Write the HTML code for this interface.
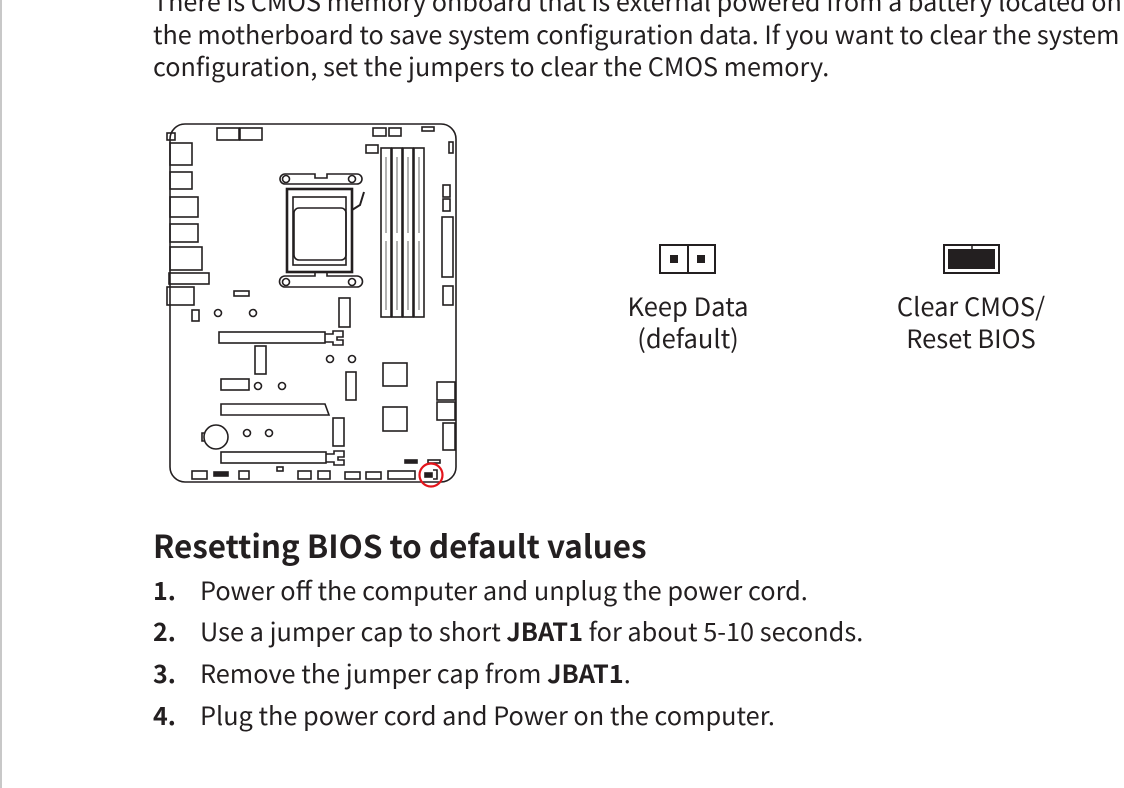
<!DOCTYPE html>
<html><head><meta charset="utf-8"><style>
html,body{margin:0;padding:0;background:#fff;}
body{width:1124px;height:788px;position:relative;overflow:hidden;font-family:"Noto Sans CJK JP","Liberation Sans",sans-serif;color:#231f20;}
.t{position:absolute;white-space:nowrap;font-size:25.2px;line-height:1;}
.lb{position:absolute;text-align:center;font-size:25.5px;line-height:32px;white-space:nowrap;}
.h{position:absolute;left:153px;top:530px;font-size:31.4px;font-weight:bold;white-space:nowrap;line-height:1;}
.n{position:absolute;left:153px;font-weight:bold;font-size:25px;white-space:nowrap;}
.i{position:absolute;left:200px;font-size:25.3px;white-space:nowrap;}
</style></head><body>
<div style="position:absolute;left:0;top:0;width:2px;height:788px;background:#c8c8c8"></div>
<div class="t" style="left:153px;top:-11px">There is CMOS memory onboard that is external powered from a battery located on</div>
<div class="t" style="left:153px;top:22px">the motherboard to save system configuration data. If you want to clear the system</div>
<div class="t" style="left:153px;top:54px">configuration, set the jumpers to clear the CMOS memory.</div>

<svg style="position:absolute;left:160px;top:120px" width="305" height="370" viewBox="0 0 305 370" fill="none" stroke="#231f20" stroke-width="1.6">
<rect x="10" y="4" width="286" height="358" rx="15" fill="#fff"/>
<rect x="7" y="13" width="8" height="7"/>
<rect x="57" y="8" width="22" height="12"/><rect x="80" y="8" width="22" height="12"/>
<rect x="213" y="8" width="13" height="8"/><rect x="229" y="8" width="12" height="8"/>
<rect x="262" y="7" width="12" height="4"/><rect x="289" y="22" width="4" height="11"/>
<rect x="206" y="25" width="12" height="8"/>
<rect x="283" y="65" width="7" height="12"/><rect x="283" y="79" width="7" height="12"/>
<rect x="282" y="97" width="11" height="60"/><rect x="283" y="166" width="10" height="19"/>
<rect x="10" y="23" width="22" height="22"/><rect x="10" y="52" width="22" height="17"/>
<rect x="10" y="77" width="28" height="20"/><rect x="10" y="104" width="28" height="18"/>
<rect x="10" y="127" width="32" height="23"/><rect x="9" y="153" width="40" height="11"/>
<rect x="7" y="167" width="27" height="18"/>
<rect x="74" y="171" width="15" height="5"/><rect x="32" y="190" width="7" height="11"/>
<circle cx="58" cy="193" r="3.5"/><circle cx="93" cy="193" r="3.5"/>
<g>
<rect x="221" y="28" width="10" height="169"/><rect x="232" y="28" width="10" height="169"/>
<rect x="243" y="28" width="10" height="169"/><rect x="254" y="28" width="10" height="169"/>
<g stroke="#999" stroke-width="1.5"><line x1="226" y1="37" x2="226" y2="113"/><line x1="226" y1="121" x2="226" y2="190"/><line x1="237" y1="37" x2="237" y2="113"/><line x1="237" y1="121" x2="237" y2="190"/><line x1="248" y1="37" x2="248" y2="113"/><line x1="248" y1="121" x2="248" y2="190"/><line x1="259" y1="37" x2="259" y2="113"/><line x1="259" y1="121" x2="259" y2="190"/></g>
</g>
<path d="M125 54 h30 v4 h12 v-4 h30 a4 4 0 0 1 0 10 h-72 a4 4 0 0 1 0 -10z"/>
<circle cx="126" cy="59" r="3.5"/><circle cx="192" cy="59" r="3.5"/>
<path d="M125 156 h30 v-4 h12 v4 h30 a4 4 0 0 1 0 11 h-72 a4 4 0 0 1 0 -11z"/>
<circle cx="126" cy="162" r="3.5"/><circle cx="192" cy="162" r="3.5"/>
<rect x="127" y="69" width="65" height="83" stroke-width="2.6"/>
<rect x="133" y="77" width="53" height="68"/>
<rect x="134" y="88" width="52" height="52" rx="5"/>
<path d="M192 90 L200 85 L204 72" stroke-width="2"/>
<rect x="179" y="178" width="11" height="29"/>
<rect x="59" y="212" width="106" height="11"/>
<path d="M165 214 h8 v-3 h10 v6 h-6 v3 h6 v5 h-10 v-3 h-8"/>
<rect x="95" y="226" width="11" height="28"/>
<circle cx="170" cy="239" r="3.5"/><circle cx="192" cy="239" r="3.5"/>
<rect x="61" y="259" width="28" height="11"/>
<circle cx="98" cy="266" r="3.5"/><circle cx="122" cy="266" r="3.5"/>
<rect x="186" y="252" width="10" height="28"/>
<rect x="223" y="243" width="24" height="23"/><rect x="223" y="287" width="24" height="24"/>
<rect x="277" y="262" width="18" height="18"/><rect x="277" y="282" width="18" height="18"/>
<rect x="283" y="303" width="12" height="27"/>
<polygon points="61,284 165,284 169,295 61,295"/>
<rect x="173" y="298" width="11" height="28"/>
<circle cx="56" cy="317" r="12"/><path d="M44 313 h-2 v8 h2"/>
<circle cx="87" cy="313" r="3.5"/><circle cx="109" cy="313" r="3.5"/>
<rect x="61" y="332" width="105" height="11"/>
<path d="M166 334 h8 v-3 h10 v6 h-6 v3 h6 v5 h-10 v-3 h-8"/>
<rect x="32" y="351" width="15" height="8"/><rect x="54" y="352" width="14" height="4" fill="#231f20"/>
<rect x="79" y="351" width="10" height="8"/><rect x="117" y="347" width="6" height="4"/>
<rect x="138" y="351" width="13" height="8"/><rect x="158" y="351" width="12" height="8"/>
<rect x="185" y="352" width="15" height="7"/><rect x="206" y="352" width="15" height="7"/>
<rect x="228" y="351" width="27" height="8"/>
<rect x="245" y="340" width="12" height="3" fill="#231f20"/><rect x="268" y="340" width="12" height="3"/>
<rect x="265" y="353" width="7" height="4" fill="#231f20"/><path d="M273 350 h4 v9 h-4"/>
<circle cx="271" cy="355" r="11.5" stroke="#e3141b" stroke-width="2.2"/>
</svg>

<svg style="position:absolute;left:658px;top:243px" width="60" height="32" viewBox="0 0 60 32">
<rect x="2" y="2" width="28" height="28" fill="#fff" stroke="#231f20" stroke-width="2"/>
<rect x="30" y="2" width="27" height="28" fill="#fff" stroke="#231f20" stroke-width="2"/>
<rect x="12" y="12" width="8" height="8" fill="#231f20"/><rect x="39" y="12" width="8" height="8" fill="#231f20"/>
</svg>
<svg style="position:absolute;left:942px;top:243px" width="60" height="32" viewBox="0 0 60 32">
<rect x="2" y="2" width="55" height="28" fill="#fff" stroke="#231f20" stroke-width="2"/>
<rect x="6" y="6" width="47" height="20" fill="#231f20"/>
<line x1="30" y1="2" x2="30" y2="6" stroke="#231f20" stroke-width="1.5"/>
</svg>
<div class="lb" style="left:588px;width:200px;top:290px">Keep Data<br>(default)</div>
<div class="lb" style="left:871px;width:200px;top:290px">Clear CMOS/<br>Reset BIOS</div>

<div class="h">Resetting BIOS to default values</div>
<div class="n" style="top:572px">1.</div><div class="i" style="top:572px">Power off the computer and unplug the power cord.</div>
<div class="n" style="top:613px">2.</div><div class="i" style="top:613px">Use a jumper cap to short <b>JBAT1</b> for about 5-10 seconds.</div>
<div class="n" style="top:655px">3.</div><div class="i" style="top:655px">Remove the jumper cap from <b>JBAT1</b>.</div>
<div class="n" style="top:697px">4.</div><div class="i" style="top:697px">Plug the power cord and Power on the computer.</div>
</body></html>
